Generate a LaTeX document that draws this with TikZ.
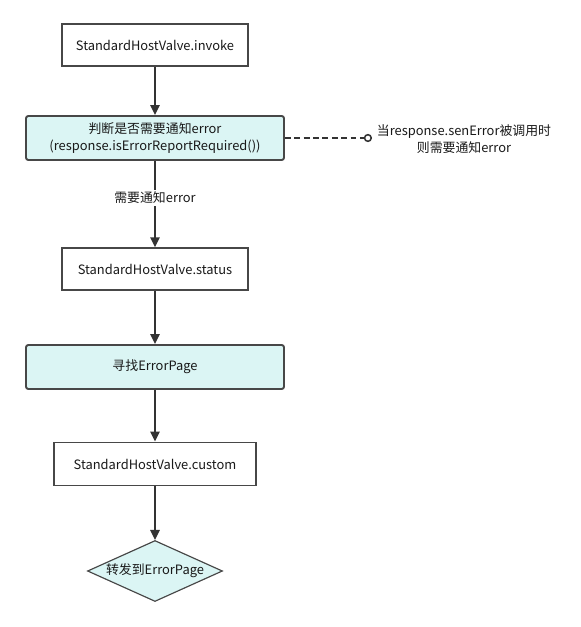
\documentclass[tikz,border=0pt]{standalone}
\usepackage{fontspec}
\setmainfont{Noto Sans CJK SC}
\usepackage{tikz}
\usetikzlibrary{arrows.meta, positioning, shapes.geometric}
\definecolor{boxfill}{HTML}{DBF5F4}
\definecolor{boxline}{HTML}{474747}
\definecolor{linkline}{HTML}{333333}

\begin{document}
\begin{tikzpicture}[
    x=0.03cm, y=-0.03cm,
    every node/.style={font=\fontsize{11}{14}\selectfont, text=black!90},
    procbox/.style={draw=boxline, line width=1.6pt, fill=white, inner sep=0pt,
                    minimum height=#1},
    procbox/.default=1.25cm,
    findbox/.style={procbox=1.32cm, fill=boxfill, rounded corners=2pt,
                    minimum width=7.74cm, align=center},
    endstate/.style={diamond, draw=boxline, line width=1pt, fill=boxfill,
                     inner sep=0pt, minimum width=4.05cm, minimum height=1.83cm,
                     aspect=2.2},
    flow/.style={-{Triangle[length=8.5pt, width=8pt]}, line width=1.3pt, linkline},
    note/.style={dashed, dash pattern=on 5pt off 3pt, line width=1.3pt, linkline,
                 -{Circle[open, length=7pt, width=7pt, fill=white]}},
]
    \useasboundingbox (0,0) rectangle (580,627);

    % main chain of calls
    \node[procbox, minimum width=5.58cm] (invoke) at (155,45) {StandardHostValve.invoke};
    \node[findbox] (check) at (155,138)
        {判断是否需要通知error\\(response.isErrorReportRequired())};
    \node[procbox, minimum width=5.58cm] (status) at (155,269) {StandardHostValve.status};
    \node[findbox] (find) at (155,367) {寻找ErrorPage};
    \node[procbox=1.29cm, minimum width=6.06cm] (custom) at (155,464) {StandardHostValve.custom};
    \node[endstate] (fwd) at (155,571) {转发到ErrorPage};

    \draw[flow] (invoke) -- (check);
    \draw[flow] (check) -- node[pos=0.43, fill=white, inner sep=2pt] (need) {需要通知error} (status);
    \draw[flow] (status) -- (find);
    \draw[flow] (find) -- (custom);
    \draw[flow] (custom) -- (fwd);

    % side remark
    \coordinate (hint) at (372,138);
    \node[align=center, inner sep=0pt] (hinttext) at (464,139)
        {当response.senError被调用时\\则需要通知error};
    \draw[note] (check.east) -- (hint);
\end{tikzpicture}
\end{document}
